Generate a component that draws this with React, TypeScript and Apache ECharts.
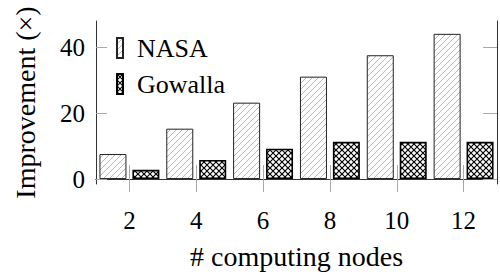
import React, { useEffect, useRef } from "react";
import * as echarts from "echarts";

const categories = ["2", "4", "6", "8", "10", "12"];
const nasa = [7.6, 15.3, 23.2, 31.1, 37.6, 44.1];
const gowalla = [2.8, 5.8, 9.2, 11.3, 11.3, 11.3];
const yTicks = [0, 20, 40];
const seriesNames = ["NASA", "Gowalla"];

const FONT = "Liberation Serif";
const LEGEND_ICON = "path://M0,0h6v20h-6z M15,20 L15,20";

function svgTile(w: number, h: number, body: string) {
  const svg = `<svg xmlns="http://www.w3.org/2000/svg" width="${w}" height="${h}">${body}</svg>`;
  return {
    image: "data:image/svg+xml;charset=utf-8," + encodeURIComponent(svg),
    repeat: "repeat",
    imageWidth: w,
    imageHeight: h,
  };
}

const nasaPattern = svgTile(
  6,
  6,
  `<rect width="6" height="6" fill="#ffffff"/><path d="M-1,1 L1,-1 M0,6 L6,0 M5,7 L7,5" stroke="#b0b0b0" stroke-width="0.9" fill="none"/>`
);
const gowallaPattern = svgTile(
  6,
  6,
  `<rect width="6" height="6" fill="#ffffff"/><path d="M-1,-1 L7,7 M7,-1 L-1,7" stroke="#000000" stroke-width="1.15" fill="none"/>`
);

export default function App() {
  const ref = useRef<HTMLDivElement>(null);
  useEffect(() => {
    if (!ref.current) return;
    const chart = echarts.init(ref.current, undefined, { renderer: "svg" });
    const axisLine = { show: true, lineStyle: { color: "#333333", width: 1 } };
    const tickStyle = { color: "#aaaaaa", width: 1 };
    const option: any = {
      animation: false,
      textStyle: { fontFamily: FONT },
      grid: { left: 96, right: 3, top: 21, bottom: 88, containLabel: false },
      legend: {
        orient: "vertical",
        left: 111,
        top: 30,
        itemWidth: 15,
        itemHeight: 20,
        itemGap: 10,
        icon: LEGEND_ICON,
        textStyle: { fontSize: 26, color: "#000", fontFamily: FONT },
        data: seriesNames,
      },
      xAxis: [
        {
          type: "category",
          data: categories,
          position: "bottom",
          axisLine,
          axisTick: { show: true, alignWithLabel: true, interval: 0, length: 13, lineStyle: tickStyle },
          axisLabel: { interval: 0, margin: 24, fontSize: 25, color: "#000", fontFamily: FONT },
          name: "# computing nodes",
          nameLocation: "middle",
          nameGap: 58,
          nameTextStyle: { fontSize: 28, color: "#000", fontFamily: FONT },
        },
        {
          type: "category",
          data: categories,
          position: "top",
          axisLine,
          axisTick: { show: true, alignWithLabel: true, interval: 0, length: 14, lineStyle: tickStyle },
          axisLabel: { show: false },
        },
      ],
      yAxis: [
        {
          type: "value",
          min: -1.5,
          max: 48,
          position: "left",
          splitLine: { show: false },
          axisLine,
          axisTick: { show: true, inside: true, length: 11, customValues: yTicks, lineStyle: tickStyle },
          axisLabel: { customValues: yTicks, margin: 11, fontSize: 25, color: "#000", fontFamily: FONT },
          name: "Improvement (×)",
          nameLocation: "middle",
          nameGap: 57,
          nameTextStyle: { fontSize: 28, color: "#000", fontFamily: FONT },
        },
        {
          type: "value",
          min: -1.5,
          max: 48,
          position: "right",
          splitLine: { show: false },
          axisLine,
          axisTick: { show: true, inside: true, length: 14, customValues: yTicks, lineStyle: tickStyle },
          axisLabel: { show: false },
        },
      ],
      series: [
        {
          name: seriesNames[0],
          type: "bar",
          data: nasa,
          barWidth: 27,
          barGap: "22%",
          itemStyle: { color: nasaPattern, borderColor: "#222", borderWidth: 1 },
        },
        {
          name: seriesNames[1],
          type: "bar",
          data: gowalla,
          barWidth: 27,
          barGap: "22%",
          itemStyle: { color: gowallaPattern, borderColor: "#000", borderWidth: 1.6 },
        },
      ],
    };
    chart.setOption(option);
    return () => chart.dispose();
  }, []);
  return (
    <div
      ref={ref}
      style={{ position: "fixed", left: 0, top: 0, width: 500, height: 275, background: "#fff" }}
    />
  );
}
